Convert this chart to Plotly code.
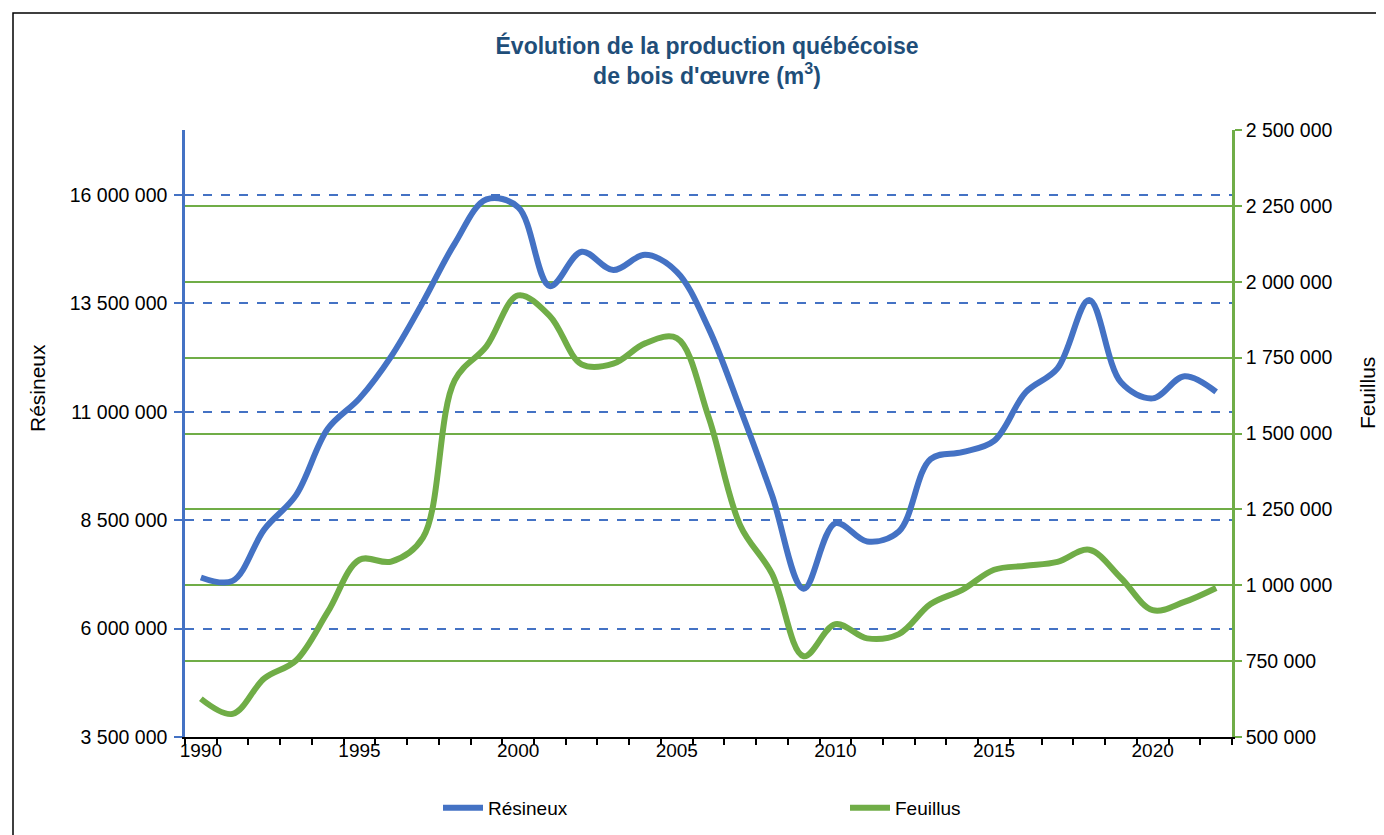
import plotly.graph_objects as go

years = list(range(1990, 2023))
resineux = [7.18e6, 7.10e6, 8.29e6, 9.08e6, 10.61e6, 11.31e6, 12.28e6, 13.53e6, 14.88e6, 15.90e6,
            15.72e6, 13.90e6, 14.69e6, 14.27e6, 14.62e6, 14.23e6, 12.93e6, 11.07e6, 9.08e6, 6.92e6,
            8.43e6, 8.01e6, 8.24e6, 9.91e6, 10.07e6, 10.33e6, 11.45e6, 12.00e6, 13.58e6, 11.68e6,
            11.31e6, 11.82e6, 11.46e6]
feuillus = [626e3, 576e3, 693e3, 752e3, 912e3, 1084e3, 1078e3, 1157e3, 1675e3, 1787e3,
            1955e3, 1887e3, 1728e3, 1730e3, 1797e3, 1814e3, 1555e3, 1197e3, 1038e3, 766e3,
            872e3, 825e3, 839e3, 938e3, 985e3, 1051e3, 1064e3, 1077e3, 1117e3, 1024e3,
            918e3, 945e3, 991e3]

left_ticks = [3500000, 6000000, 8500000, 11000000, 13500000, 16000000]
right_ticks = [500000, 750000, 1000000, 1250000, 1500000, 1750000, 2000000, 2250000, 2500000]
x_labels = [1990, 1995, 2000, 2005, 2010, 2015, 2020]

BLUE = "#4472C4"
GREEN = "#70AD47"
FONT = "Liberation Sans Narrow, Arial Narrow, Liberation Sans, Arial, sans-serif"

def fmt(v):
    return f"{v:,}".replace(",", " ")

fig = go.Figure()
fig.add_trace(go.Scatter(x=years, y=resineux, name="Résineux", mode="lines",
                         line=dict(color=BLUE, width=6, shape="spline", smoothing=1.0),
                         yaxis="y"))
fig.add_trace(go.Scatter(x=years, y=feuillus, name="Feuillus", mode="lines",
                         line=dict(color=GREEN, width=6, shape="spline", smoothing=1.0),
                         yaxis="y2"))

# page has an 8px body margin: figure is drawn from page (8, 8)
OFF = 8
W, H = 1384 - OFF, 835 - OFF
# target plot area in page pixels
L, R, T, B = 185, 1232, 130, 737

def px(xp):  # page x -> x paper
    return (xp - L) / (R - L)

def py(yp):  # page y -> y paper
    return (B - yp) / (B - T)

fig.update_layout(
    width=W, height=H,
    margin=dict(l=L - OFF, r=1384 - R, t=T - OFF, b=835 - B, autoexpand=False),
    paper_bgcolor="white", plot_bgcolor="white",
    font=dict(family=FONT, size=19, color="#000000"),
    title=dict(text="Évolution de la production québécoise<br>de bois d'œuvre (m<sup>3</sup>)",
               x=(707 - OFF) / W, xanchor="center", y=1 - 46 / H, yanchor="middle",
               font=dict(family=FONT, size=23, color="#1F4E79", weight="bold")),
    xaxis=dict(range=[1989.5, 2022.5], tickvals=x_labels, ticktext=[str(v) for v in x_labels],
               ticks="", showgrid=False, zeroline=False,
               showline=True, linecolor="#000000", linewidth=2,
               tickfont=dict(family=FONT, size=19), ticklabelstandoff=-5,
               minor=dict(tick0=1989.5, dtick=1, ticks="outside", ticklen=6,
                          tickcolor="#000000", tickwidth=1.5, showgrid=False)),
    yaxis=dict(range=[3500000, 17500000], tickvals=left_ticks, ticktext=[fmt(v) for v in left_ticks],
               showline=True, linecolor=BLUE, linewidth=2.5,
               ticks="outside", ticklen=8, tickcolor=BLUE, tickwidth=2,
               showgrid=True, gridcolor=BLUE, gridwidth=1.5, griddash="dash",
               zeroline=False, tickfont=dict(family=FONT, size=19.5), ticklabelstandoff=3),
    yaxis2=dict(range=[500000, 2500000], tickvals=right_ticks, ticktext=[fmt(v) for v in right_ticks],
                overlaying="y", side="right",
                showline=True, linecolor=GREEN, linewidth=2.5,
                ticks="outside", ticklen=7, tickcolor=GREEN, tickwidth=2,
                showgrid=True, gridcolor=GREEN, gridwidth=2,
                zeroline=False, tickfont=dict(family=FONT, size=19.5)),
    legend=dict(orientation="h", x=px(438), xanchor="left",
                y=py(808), yanchor="middle",
                entrywidth=352, entrywidthmode="pixels", itemwidth=40,
                font=dict(family=FONT, size=19), bgcolor="rgba(0,0,0,0)"),
    showlegend=True,
    annotations=[
        dict(text="Résineux", textangle=-90, xref="paper", yref="paper",
             x=px(38), y=py(388), xanchor="center", yanchor="middle", showarrow=False,
             font=dict(family=FONT, size=21, color="#000000")),
        dict(text="Feuillus", textangle=-90, xref="paper", yref="paper",
             x=px(1367), y=py(393), xanchor="center", yanchor="middle", showarrow=False,
             font=dict(family=FONT, size=21, color="#000000")),
    ],
)

# outer frame of the chart area
fig.add_shape(type="rect", xref="paper", yref="paper",
              x0=px(13), x1=px(1400), y0=py(850), y1=py(13),
              line=dict(color="#000000", width=1.5), fillcolor="rgba(0,0,0,0)", layer="below")

fig.write_html("out.html")
